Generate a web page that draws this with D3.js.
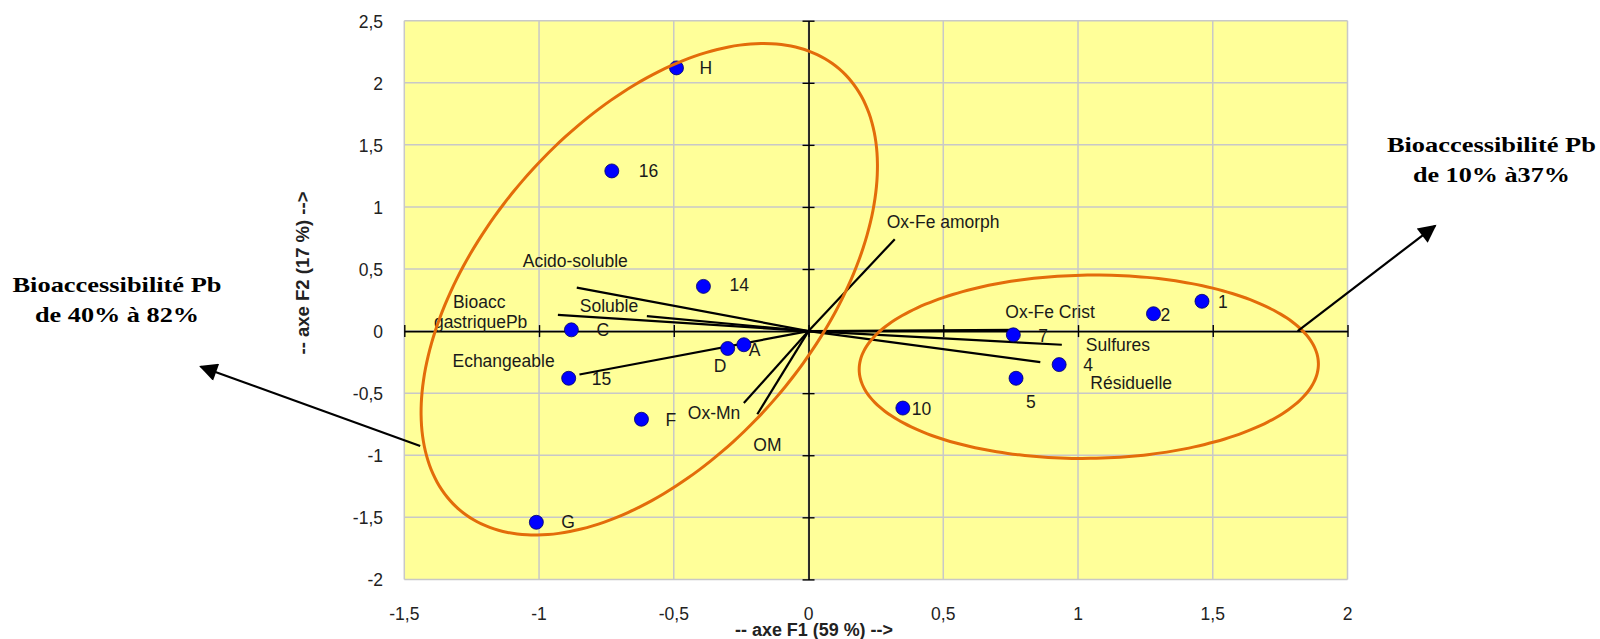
<!DOCTYPE html>
<html><head><meta charset="utf-8">
<script src="https://cdn.jsdelivr.net/npm/d3@7"></script>
<style>
html,body{margin:0;padding:0;background:#fff;}
svg{display:block;}
text{font-family:"Liberation Sans",Arial,sans-serif;}
text.serif{font-family:"Liberation Serif","Times New Roman",serif;}
</style></head>
<body>
<svg id="chart" width="1600" height="639"></svg>
<script>
// ---- data ----
const xTicks = [-1.5, -1, -0.5, 0, 0.5, 1, 1.5, 2];
const yTicks = [-2, -1.5, -1, -0.5, 0, 0.5, 1, 1.5, 2, 2.5];
const obsNames = ["H", "16", "14", "C", "D", "A", "15", "F", "G", "1", "2", "7", "4", "5", "10"];
const obsF1 = [-0.49, -0.73, -0.39, -0.88, -0.30, -0.24, -0.89, -0.62, -1.01, 1.46, 1.28, 0.76, 0.93, 0.77, 0.35];
const obsF2 = [2.12, 1.29, 0.36, 0.01, -0.14, -0.11, -0.38, -0.71, -1.54, 0.24, 0.14, -0.03, -0.27, -0.38, -0.62];
const varNames = ["Acido-soluble", "Bioacc\ngastriquePb", "Soluble", "Echangeable", "Ox-Mn", "OM", "Ox-Fe amorph", "Ox-Fe Crist", "Sulfures", "Résiduelle"];
const varF1 = [-0.86, -0.93, -0.60, -0.85, -0.24, -0.19, 0.32, 0.76, 0.94, 0.86];
const varF2 = [0.35, 0.13, 0.12, -0.35, -0.58, -0.67, 0.74, 0.01, -0.11, -0.25];
const xTitle = "-- axe F1 (59 %) -->";
const yTitle = "-- axe F2 (17 %) -->";
const groupTexts = [["Bioaccessibilité Pb", "de 40% à 82%"], ["Bioaccessibilité Pb", "de 10% à37%"]];
// group ellipses in data units: centre, two conjugate half-axis vectors
const ellCenter = [[-0.591, 0.337], [1.04, -0.287]];
const ellU = [[0.705, 1.775], [0.852, 0.026]];
const ellV = [[0.469, -0.877], [0.005, -0.738]];
// annotation arrows (data units, from -> to)
const arrowFrom = [[-1.441, -0.926], [1.815, 0.0]];
const arrowTo = [[-2.255, -0.287], [2.325, 0.848]];
const groupTextAt = [[-2.566, 0.316], [2.534, 1.444]];

// ---- label placement (pixels) ----
const obsLabelOff = [[23,6],[27,6],[26,5],[25,6],[-14,24],[5,11],[23,7],[24,7],[25,6],[16,7],[7,7],[25,7],[24,6],[10,30],[9,7]];
const varLabelOff = [[-54,-21],[-105,-7],[-67,-4],[-127,-8],[-56,16],[-4,37],[-8,-11],[-8,-12],[24,6],[50,27]];

const svg = d3.select("#chart");
const x = d3.scaleLinear().domain([-1.5, 2]).range([404.3, 1347.5]);
const y = d3.scaleLinear().domain([-2, 2.5]).range([579.4, 20.7]);

// plot background
svg.append("rect").attr("x", x(-1.5)).attr("y", y(2.5))
  .attr("width", x(2) - x(-1.5)).attr("height", y(-2) - y(2.5))
  .attr("fill", "#ffff99");

// grid
const g = svg.append("g");
g.selectAll(".gx").data(xTicks).join("line")
  .attr("x1", d => x(d)).attr("x2", d => x(d)).attr("y1", y(2.5)).attr("y2", y(-2))
  .attr("stroke", "#c8c8c8").attr("stroke-width", 1.5);
g.selectAll(".gy").data(yTicks).join("line")
  .attr("y1", d => y(d)).attr("y2", d => y(d)).attr("x1", x(-1.5)).attr("x2", x(2))
  .attr("stroke", "#c8c8c8").attr("stroke-width", 1.5);

// axes through origin
const axX = svg.append("g").attr("transform", `translate(0,${y(0)})`)
  .call(d3.axisBottom(x).tickValues(xTicks).tickSizeInner(6).tickSizeOuter(0).tickFormat(""));
const axY = svg.append("g").attr("transform", `translate(${x(0)},0)`)
  .call(d3.axisLeft(y).tickValues(yTicks).tickSizeInner(6).tickSizeOuter(0).tickFormat(""));
[axX, axY].forEach(a => {
  a.select(".domain").attr("stroke", "#000").attr("stroke-width", 1.6);
  a.selectAll(".tick line").attr("stroke", "#000").attr("stroke-width", 1.4);
});
axX.selectAll(".tick line").attr("y1", -6).attr("y2", 6);
axY.selectAll(".tick line").attr("x1", -6).attr("x2", 6);

// tick labels
const fmt = d => String(d).replace(".", ",");
svg.append("g").selectAll("text").data(xTicks).join("text")
  .attr("x", d => x(d)).attr("y", 620).attr("text-anchor", "middle")
  .attr("font-size", 17.5).attr("fill", "#222").text(fmt);
svg.append("g").selectAll("text").data(yTicks).join("text")
  .attr("x", 383).attr("y", d => y(d) + 7).attr("text-anchor", "end")
  .attr("font-size", 17.5).attr("fill", "#222").text(fmt);

// axis titles
svg.append("text").attr("x", 814).attr("y", 636).attr("text-anchor", "middle")
  .attr("font-size", 18).attr("font-weight", "bold").attr("fill", "#222")
  .attr("textLength", 158).attr("lengthAdjust", "spacingAndGlyphs").text(xTitle);
svg.append("text").attr("transform", "translate(309,273) rotate(-90)").attr("text-anchor", "middle")
  .attr("font-size", 18).attr("font-weight", "bold").attr("fill", "#222")
  .attr("textLength", 163).attr("lengthAdjust", "spacingAndGlyphs").text(yTitle);

// variable vectors
const vars = varNames.map((n, i) => ({n, f1: varF1[i], f2: varF2[i], off: varLabelOff[i]}));
svg.append("g").selectAll("line").data(vars).join("line")
  .attr("x1", x(0)).attr("y1", y(0)).attr("x2", d => x(d.f1)).attr("y2", d => y(d.f2))
  .attr("stroke", "#000").attr("stroke-width", 2.2);
const vl = svg.append("g").selectAll("text").data(vars).join("text")
  .attr("x", d => x(d.f1) + d.off[0]).attr("y", d => y(d.f2) + d.off[1])
  .attr("font-size", 17.5).attr("fill", "#1a1a1a");
vl.each(function(d) {
  const lines = d.n.split("\n");
  const t = d3.select(this);
  lines.forEach((ln, k) => {
    t.append("tspan").attr("x", x(d.f1) + d.off[0] + (k === 1 ? -19 : 0))
      .attr("dy", k === 0 ? 0 : 20).text(ln);
  });
});

// observations
const obs = obsNames.map((n, i) => ({n, f1: obsF1[i], f2: obsF2[i], off: obsLabelOff[i]}));
svg.append("g").selectAll("circle").data(obs).join("circle")
  .attr("cx", d => x(d.f1)).attr("cy", d => y(d.f2)).attr("r", 7)
  .attr("fill", "#0000ff").attr("stroke", "#000066").attr("stroke-width", 0.8);
svg.append("g").selectAll("text").data(obs).join("text")
  .attr("x", d => x(d.f1) + d.off[0]).attr("y", d => y(d.f2) + d.off[1])
  .attr("font-size", 17.5).attr("fill", "#1a1a1a").text(d => d.n);

// group ellipses
const ts = d3.range(0, 360, 3).map(a => a * Math.PI / 180);
ellCenter.forEach((c, i) => {
  const line = d3.line()
    .x(t => x(c[0] + ellU[i][0] * Math.cos(t) + ellV[i][0] * Math.sin(t)))
    .y(t => y(c[1] + ellU[i][1] * Math.cos(t) + ellV[i][1] * Math.sin(t)))
    .curve(d3.curveCardinalClosed);
  svg.append("path").attr("d", line(ts)).attr("fill", "none")
    .attr("stroke", "#e36c0a").attr("stroke-width", 3);
});

// arrows
const defs = svg.append("defs");
defs.append("marker").attr("id", "ah").attr("viewBox", "0 0 10 10")
  .attr("refX", 9).attr("refY", 5)
  .attr("markerUnits", "userSpaceOnUse").attr("orient", "auto")
  .attr("markerWidth", 22).attr("markerHeight", 18)
  .append("path").attr("d", "M0,0 L10,5 L0,10 Z").attr("fill", "#000");
arrowFrom.forEach((f, i) => {
  svg.append("line").attr("x1", x(f[0])).attr("y1", y(f[1]))
    .attr("x2", x(arrowTo[i][0])).attr("y2", y(arrowTo[i][1]))
    .attr("stroke", "#000").attr("stroke-width", 2.2).attr("marker-end", "url(#ah)");
});

// group annotation texts
groupTexts.forEach((lines, i) => {
  const p = groupTextAt[i];
  lines.forEach((ln, k) => {
    svg.append("text").attr("class", "serif").attr("x", x(p[0])).attr("y", y(p[1]) + k * 30)
      .attr("text-anchor", "middle")
      .attr("font-weight", "bold").attr("font-size", 21).attr("fill", "#000")
      .attr("textLength", k === 0 ? 209 : (i === 0 ? 164 : 157)).attr("lengthAdjust", "spacingAndGlyphs")
      .text(ln);
  });
});
</script>
</body></html>
